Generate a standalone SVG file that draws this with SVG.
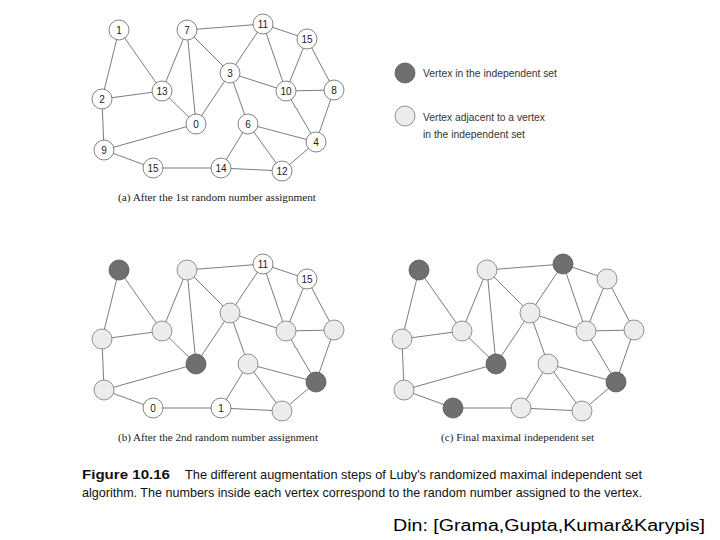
<svg xmlns="http://www.w3.org/2000/svg" xmlns:xlink="http://www.w3.org/1999/xlink" width="720" height="540" viewBox="0 0 720 540">
<style>
.e line{stroke:#5a5a5a;stroke-width:0.8}
.w{fill:#fff;stroke:#666;stroke-width:0.8}
.l{fill:#ececec;stroke:#777;stroke-width:0.8}
.d{fill:#6f6f6f;stroke:#555;stroke-width:0.8}
.nl{font-family:"Liberation Sans",Arial,sans-serif;font-size:10px;fill:#222;text-anchor:middle}
.cap{font-family:"Liberation Serif","Times New Roman",serif;font-size:11px;fill:#222}
.leg{font-family:"Liberation Sans",Arial,sans-serif;font-size:10px;fill:#333}
.fig{font-family:"Liberation Sans",Arial,sans-serif;font-size:13px;fill:#111}
</style>
<defs>
<g id="edges" class="e">
<line x1="119" y1="30" x2="162" y2="91"/>
<line x1="119" y1="30" x2="102" y2="99"/>
<line x1="187" y1="30" x2="162" y2="91"/>
<line x1="187" y1="30" x2="263" y2="24"/>
<line x1="187" y1="30" x2="196" y2="124"/>
<line x1="187" y1="30" x2="230" y2="73"/>
<line x1="263" y1="24" x2="230" y2="73"/>
<line x1="263" y1="24" x2="307" y2="39"/>
<line x1="263" y1="24" x2="286" y2="91"/>
<line x1="307" y1="39" x2="286" y2="91"/>
<line x1="307" y1="39" x2="334" y2="90"/>
<line x1="286" y1="91" x2="334" y2="90"/>
<line x1="230" y1="73" x2="286" y2="91"/>
<line x1="230" y1="73" x2="196" y2="124"/>
<line x1="230" y1="73" x2="248" y2="124"/>
<line x1="162" y1="91" x2="102" y2="99"/>
<line x1="162" y1="91" x2="196" y2="124"/>
<line x1="102" y1="99" x2="104" y2="150"/>
<line x1="104" y1="150" x2="196" y2="124"/>
<line x1="104" y1="150" x2="153" y2="168"/>
<line x1="153" y1="168" x2="221" y2="168"/>
<line x1="221" y1="168" x2="248" y2="124"/>
<line x1="221" y1="168" x2="282" y2="171"/>
<line x1="248" y1="124" x2="316" y2="142"/>
<line x1="248" y1="124" x2="282" y2="171"/>
<line x1="282" y1="171" x2="316" y2="142"/>
<line x1="286" y1="91" x2="316" y2="142"/>
<line x1="334" y1="90" x2="316" y2="142"/>
</g>
</defs>
<rect width="720" height="540" fill="#fff"/>

<g id="connectors">
<use xlink:href="#edges"/>
<use xlink:href="#edges" transform="translate(0,240)"/>
<use xlink:href="#edges" transform="translate(300,240)"/>
</g>

<!-- Graph (a) -->
<g id="graph-a">
<g id="a-n1"><circle class="w" cx="119" cy="30" r="10"/><text class="nl" x="119" y="34">1</text></g>
<g id="a-n7"><circle class="w" cx="187" cy="30" r="10"/><text class="nl" x="187" y="34">7</text></g>
<g id="a-n11"><circle class="w" cx="263" cy="24" r="10"/><text class="nl" x="263" y="28">11</text></g>
<g id="a-n15"><circle class="w" cx="307" cy="39" r="10"/><text class="nl" x="307" y="43">15</text></g>
<g id="a-n3"><circle class="w" cx="230" cy="73" r="10"/><text class="nl" x="230" y="77">3</text></g>
<g id="a-n13"><circle class="w" cx="162" cy="91" r="10"/><text class="nl" x="162" y="95">13</text></g>
<g id="a-n10"><circle class="w" cx="286" cy="91" r="10"/><text class="nl" x="286" y="95">10</text></g>
<g id="a-n8"><circle class="w" cx="334" cy="90" r="10"/><text class="nl" x="334" y="94">8</text></g>
<g id="a-n2"><circle class="w" cx="102" cy="99" r="10"/><text class="nl" x="102" y="103">2</text></g>
<g id="a-n0"><circle class="w" cx="196" cy="124" r="10"/><text class="nl" x="196" y="128">0</text></g>
<g id="a-n6"><circle class="w" cx="248" cy="124" r="10"/><text class="nl" x="248" y="128">6</text></g>
<g id="a-n4"><circle class="w" cx="316" cy="142" r="10"/><text class="nl" x="316" y="146">4</text></g>
<g id="a-n9"><circle class="w" cx="104" cy="150" r="10"/><text class="nl" x="104" y="154">9</text></g>
<g id="a-n15b"><circle class="w" cx="153" cy="168" r="10"/><text class="nl" x="153" y="172">15</text></g>
<g id="a-n14"><circle class="w" cx="221" cy="168" r="10"/><text class="nl" x="221" y="172">14</text></g>
<g id="a-n12"><circle class="w" cx="282" cy="171" r="10"/><text class="nl" x="282" y="175">12</text></g>
</g>
<text class="cap" x="118" y="201" textLength="198" lengthAdjust="spacingAndGlyphs">(a) After the 1st random number assignment</text>

<!-- Legend -->
<g id="legend-dark"><circle class="d" cx="405" cy="73" r="10"/><text class="leg" x="423" y="77" textLength="134" lengthAdjust="spacingAndGlyphs">Vertex in the independent set</text></g>
<g id="legend-light"><circle class="l" cx="405" cy="116" r="10"/><text class="leg" x="423" y="121" textLength="122" lengthAdjust="spacingAndGlyphs">Vertex adjacent to a vertex</text><text class="leg" x="423" y="138" textLength="102" lengthAdjust="spacingAndGlyphs">in the independent set</text></g>

<!-- Graph (b) -->
<g id="graph-b" transform="translate(0,240)">
<g id="b-n1"><circle class="d" cx="119" cy="30" r="10"/></g>
<g id="b-n7"><circle class="l" cx="187" cy="30" r="10"/></g>
<g id="b-n11"><circle class="w" cx="263" cy="24" r="10"/><text class="nl" x="263" y="28">11</text></g>
<g id="b-n15"><circle class="w" cx="307" cy="39" r="10"/><text class="nl" x="307" y="43">15</text></g>
<g id="b-n3"><circle class="l" cx="230" cy="73" r="10"/></g>
<g id="b-n13"><circle class="l" cx="162" cy="91" r="10"/></g>
<g id="b-n10"><circle class="l" cx="286" cy="91" r="10"/></g>
<g id="b-n8"><circle class="l" cx="334" cy="90" r="10"/></g>
<g id="b-n2"><circle class="l" cx="102" cy="99" r="10"/></g>
<g id="b-n0"><circle class="d" cx="196" cy="124" r="10"/></g>
<g id="b-n6"><circle class="l" cx="248" cy="124" r="10"/></g>
<g id="b-n4"><circle class="d" cx="316" cy="142" r="10"/></g>
<g id="b-n9"><circle class="l" cx="104" cy="150" r="10"/></g>
<g id="b-n15b"><circle class="w" cx="153" cy="168" r="10"/><text class="nl" x="153" y="172">0</text></g>
<g id="b-n14"><circle class="w" cx="221" cy="168" r="10"/><text class="nl" x="221" y="172">1</text></g>
<g id="b-n12"><circle class="l" cx="282" cy="171" r="10"/></g>
</g>
<text class="cap" x="118" y="441" textLength="200" lengthAdjust="spacingAndGlyphs">(b) After the 2nd random number assignment</text>

<!-- Graph (c) -->
<g id="graph-c" transform="translate(300,240)">
<g id="c-n1"><circle class="d" cx="119" cy="30" r="10"/></g>
<g id="c-n7"><circle class="l" cx="187" cy="30" r="10"/></g>
<g id="c-n11"><circle class="d" cx="263" cy="24" r="10"/></g>
<g id="c-n15"><circle class="l" cx="307" cy="39" r="10"/></g>
<g id="c-n3"><circle class="l" cx="230" cy="73" r="10"/></g>
<g id="c-n13"><circle class="l" cx="162" cy="91" r="10"/></g>
<g id="c-n10"><circle class="l" cx="286" cy="91" r="10"/></g>
<g id="c-n8"><circle class="l" cx="334" cy="90" r="10"/></g>
<g id="c-n2"><circle class="l" cx="102" cy="99" r="10"/></g>
<g id="c-n0"><circle class="d" cx="196" cy="124" r="10"/></g>
<g id="c-n6"><circle class="l" cx="248" cy="124" r="10"/></g>
<g id="c-n4"><circle class="d" cx="316" cy="142" r="10"/></g>
<g id="c-n9"><circle class="l" cx="104" cy="150" r="10"/></g>
<g id="c-n15b"><circle class="d" cx="153" cy="168" r="10"/></g>
<g id="c-n14"><circle class="l" cx="221" cy="168" r="10"/></g>
<g id="c-n12"><circle class="l" cx="282" cy="171" r="10"/></g>
</g>
<text class="cap" x="441" y="441" textLength="153" lengthAdjust="spacingAndGlyphs">(c) Final maximal independent set</text>

<!-- Figure caption -->
<text class="fig" x="82" y="479" font-weight="bold" textLength="88" lengthAdjust="spacingAndGlyphs">Figure 10.16</text>
<text class="fig" x="185" y="479" textLength="457" lengthAdjust="spacingAndGlyphs">The different augmentation steps of Luby's randomized maximal independent set</text>
<text class="fig" x="82" y="497" textLength="560" lengthAdjust="spacingAndGlyphs">algorithm. The numbers inside each vertex correspond to the random number assigned to the vertex.</text>

<text x="393" y="531" font-family="'Liberation Sans',Arial,sans-serif" font-size="16" fill="#000" textLength="312" lengthAdjust="spacingAndGlyphs">Din: [Grama,Gupta,Kumar&amp;Karypis]</text>
</svg>
